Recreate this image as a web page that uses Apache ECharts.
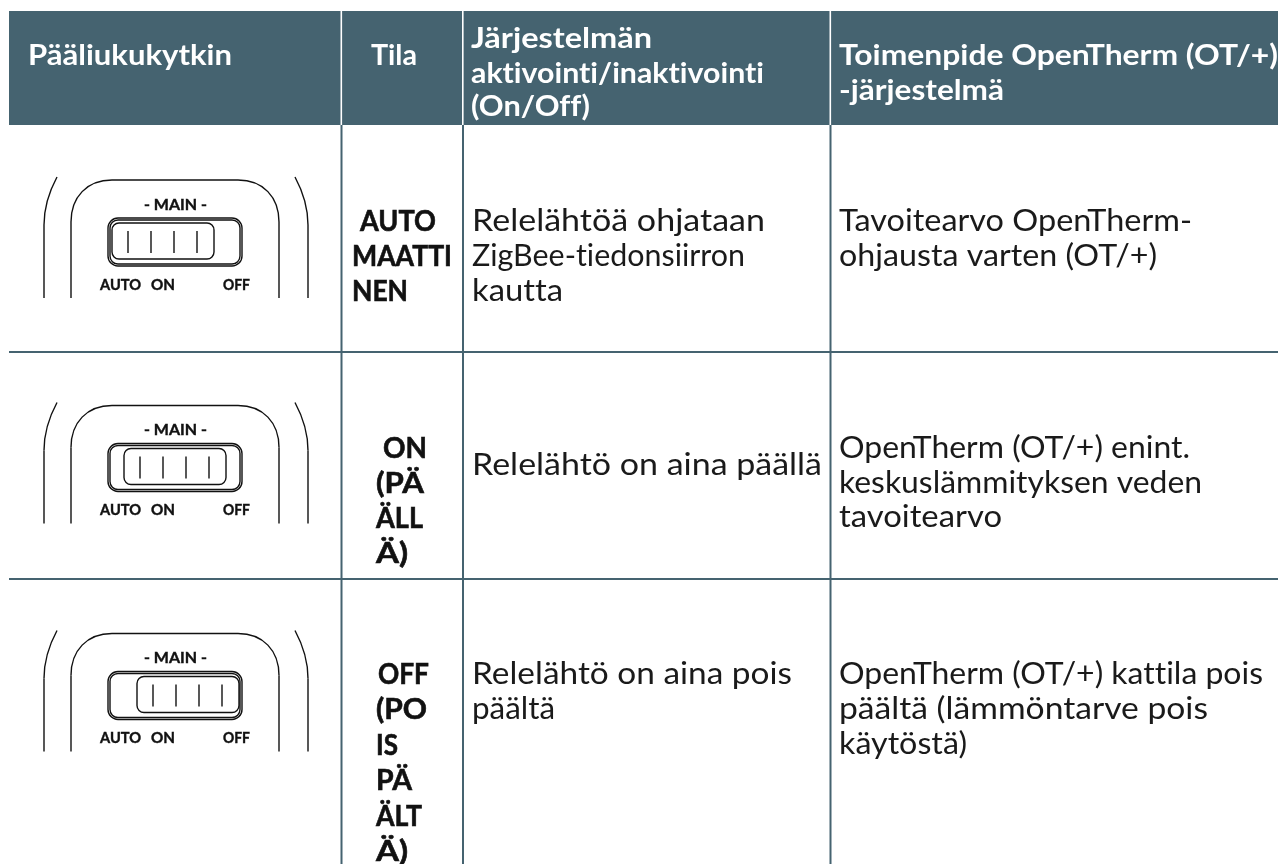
<!DOCTYPE html>
<html><head><meta charset="utf-8">
<style>html,body{margin:0;padding:0;background:#fff}#c{width:1278px;height:864px}</style>
<script src="https://cdn.jsdelivr.net/npm/echarts@6/dist/echarts.min.js"></script>
</head><body><div id="c"></div>
<script>
// ---- table content ----
const headerCol1 = ['Pääliukukytkin'];
const headerCol2 = ['Tila'];
const headerCol3 = ['Järjestelmän', 'aktivointi/inaktivointi', '(On/Off)'];
const headerCol4 = ['Toimenpide OpenTherm (OT/+)', '-järjestelmä'];
const stateRow1 = ['AUTO', 'MAATTI', 'NEN'];
const stateRow2 = ['ON', '(PÄ', 'ÄLL', 'Ä)'];
const stateRow3 = ['OFF', '(PO', 'IS', 'PÄ', 'ÄLT', 'Ä)'];
const relayRow1 = ['Relelähtöä ohjataan', 'ZigBee-tiedonsiirron', 'kautta'];
const relayRow2 = ['Relelähtö on aina päällä'];
const relayRow3 = ['Relelähtö on aina pois', 'päältä'];
const actionRow1 = ['Tavoitearvo OpenTherm-', 'ohjausta varten (OT/+)'];
const actionRow2 = ['OpenTherm (OT/+) enint.', 'keskuslämmityksen veden', 'tavoitearvo'];
const actionRow3 = ['OpenTherm (OT/+) kattila pois', 'päältä (lämmöntarve pois', 'käytöstä)'];
const switchTop = ['- MAIN -'];
const switchLabels = ['AUTO', 'ON', 'OFF'];

// no font ligatures in canvas text (the original face has none)
const origGet = HTMLCanvasElement.prototype.getContext;
HTMLCanvasElement.prototype.getContext = function () {
  const c = origGet.apply(this, arguments);
  if (c && 'textRendering' in c) c.textRendering = 'optimizeSpeed';
  return c;
};

// ---- layout (pixels) ----
const INK = '#1a1a1a', HEAD = '#456370', FONT = 'Lato';
const cv = document.createElement('canvas').getContext('2d');
function line(text, x, base, w, size, weight, color, bolder) {
  cv.font = weight + ' ' + size + 'px ' + FONT;
  const s = w / cv.measureText(text).width;
  const style = { text: text, x: 0, y: 0, fill: color, font: weight + ' ' + size + 'px ' + FONT,
    textAlign: 'left', textVerticalAlign: 'middle' };
  if (bolder) { style.stroke = color; style.lineWidth = bolder; }
  return { type: 'text', x: x, y: base - size * 0.34, scaleX: s, z: 10, style: style };
}
function block(texts, xs, bases, widths, size, weight, color, bolder) {
  return texts.map((t, i) => line(t, xs[i], bases[i], widths[i], size, weight, color, bolder));
}
const B = 29, R = 30;
const els = [];
els.push({ type: 'rect', shape: { x: 9, y: 11, width: 1269, height: 114 }, style: { fill: HEAD } });
[341.5, 463, 830.5].forEach(x => {
  els.push({ type: 'rect', shape: { x: x - 1, y: 11, width: 1.6, height: 114 }, style: { fill: '#fff' }, z: 2 });
  els.push({ type: 'rect', shape: { x: x - 1, y: 125, width: 2, height: 739 }, style: { fill: HEAD } });
});
[352, 579].forEach(y => els.push({ type: 'rect', shape: { x: 9, y: y - 1, width: 1269, height: 2 }, style: { fill: HEAD } }));

// header
els.push(...block(headerCol1, [28], [66], [204], B, 'bold', '#fff'));
els.push(...block(headerCol2, [371], [66], [46], B, 'bold', '#fff'));
els.push(...block(headerCol3, [471, 471, 471], [49, 84, 117], [181, 293, 119], B, 'bold', '#fff'));
els.push(...block(headerCol4, [839, 839], [66, 101], [439, 165], B, 'bold', '#fff'));
// state column
els.push(...block(stateRow1, [360, 352, 352], [232, 267, 302], [76, 100, 56], B, 'bold', '#111', 0.6));
els.push(...block(stateRow2, [383, 376, 376, 376], [459, 494, 529, 564], [44, 48, 47, 32], B, 'bold', '#111', 0.6));
els.push(...block(stateRow3, [378, 376, 376, 376, 376, 376], [685, 720, 756, 791, 827, 862], [51, 51, 22, 36, 46, 32], B, 'bold', '#111', 0.6));
// relay column
els.push(...block(relayRow1, [472, 472, 472], [232, 267, 302], [293, 273, 91], R, 'normal', INK));
els.push(...block(relayRow2, [472], [476], [350], R, 'normal', INK));
els.push(...block(relayRow3, [472, 472], [685, 720], [320, 83], R, 'normal', INK));
// action column
els.push(...block(actionRow1, [839, 839], [232, 267], [353, 318], R, 'normal', INK));
els.push(...block(actionRow2, [839, 839, 839], [459, 494, 528], [351, 363, 163], R, 'normal', INK));
els.push(...block(actionRow3, [839, 839, 839], [685, 720, 755], [424, 369, 128], R, 'normal', INK));

// switch drawing
function sw(dy, knobX) {
  const stroke = { stroke: '#111', fill: null, lineWidth: 1.4 };
  const seg = (x1, y1, x2, y2) => ({ type: 'line', shape: { x1, y1, x2, y2 }, style: stroke });
  const curve = (x1, y1, cpx1, cpy1, cpx2, cpy2, x2, y2) => ({ type: 'bezierCurve',
    shape: { x1, y1, cpx1, cpy1, cpx2, cpy2, x2, y2 }, style: stroke });
  const kids = [
    curve(57, 177, 50, 190, 44, 207, 44, 225), seg(44, 225, 44, 298),
    curve(295, 177, 302, 190, 308, 207, 308, 225), seg(308, 225, 308, 298),
    seg(71, 298, 71, 222), curve(71, 222, 71, 197, 87, 180, 112, 180),
    seg(112, 180, 238, 180), curve(238, 180, 263, 180, 279, 197, 279, 222), seg(279, 222, 279, 298),
    { type: 'rect', shape: { x: 108, y: 218, width: 134, height: 48, r: 10 }, style: stroke },
    { type: 'rect', shape: { x: 110, y: 220, width: 130, height: 44, r: 8 }, style: stroke },
    { type: 'rect', shape: { x: knobX, y: 223, width: 102, height: 36, r: 7 }, style: stroke }
  ];
  [16, 39, 62, 85].forEach(o => kids.push(seg(knobX + o, 231, knobX + o, 253)));
  kids.push(line(switchTop[0], 144, 210, 63, 15, 'bold', '#111', 0.4));
  [[100, 41], [151, 24], [223, 27]].forEach((p, i) =>
    kids.push(line(switchLabels[i], p[0], 290, p[1], 15, 'bold', '#111', 0.4)));
  return { type: 'group', x: 0, y: dy, children: kids };
}
els.push(sw(0, 112), sw(225.5, 124), sw(453.5, 137));

const chart = echarts.init(document.getElementById('c'), null, { renderer: 'canvas', width: 1278, height: 864 });
chart.setOption({ backgroundColor: '#fff', animation: false, graphic: { elements: els } });
</script></body></html>
